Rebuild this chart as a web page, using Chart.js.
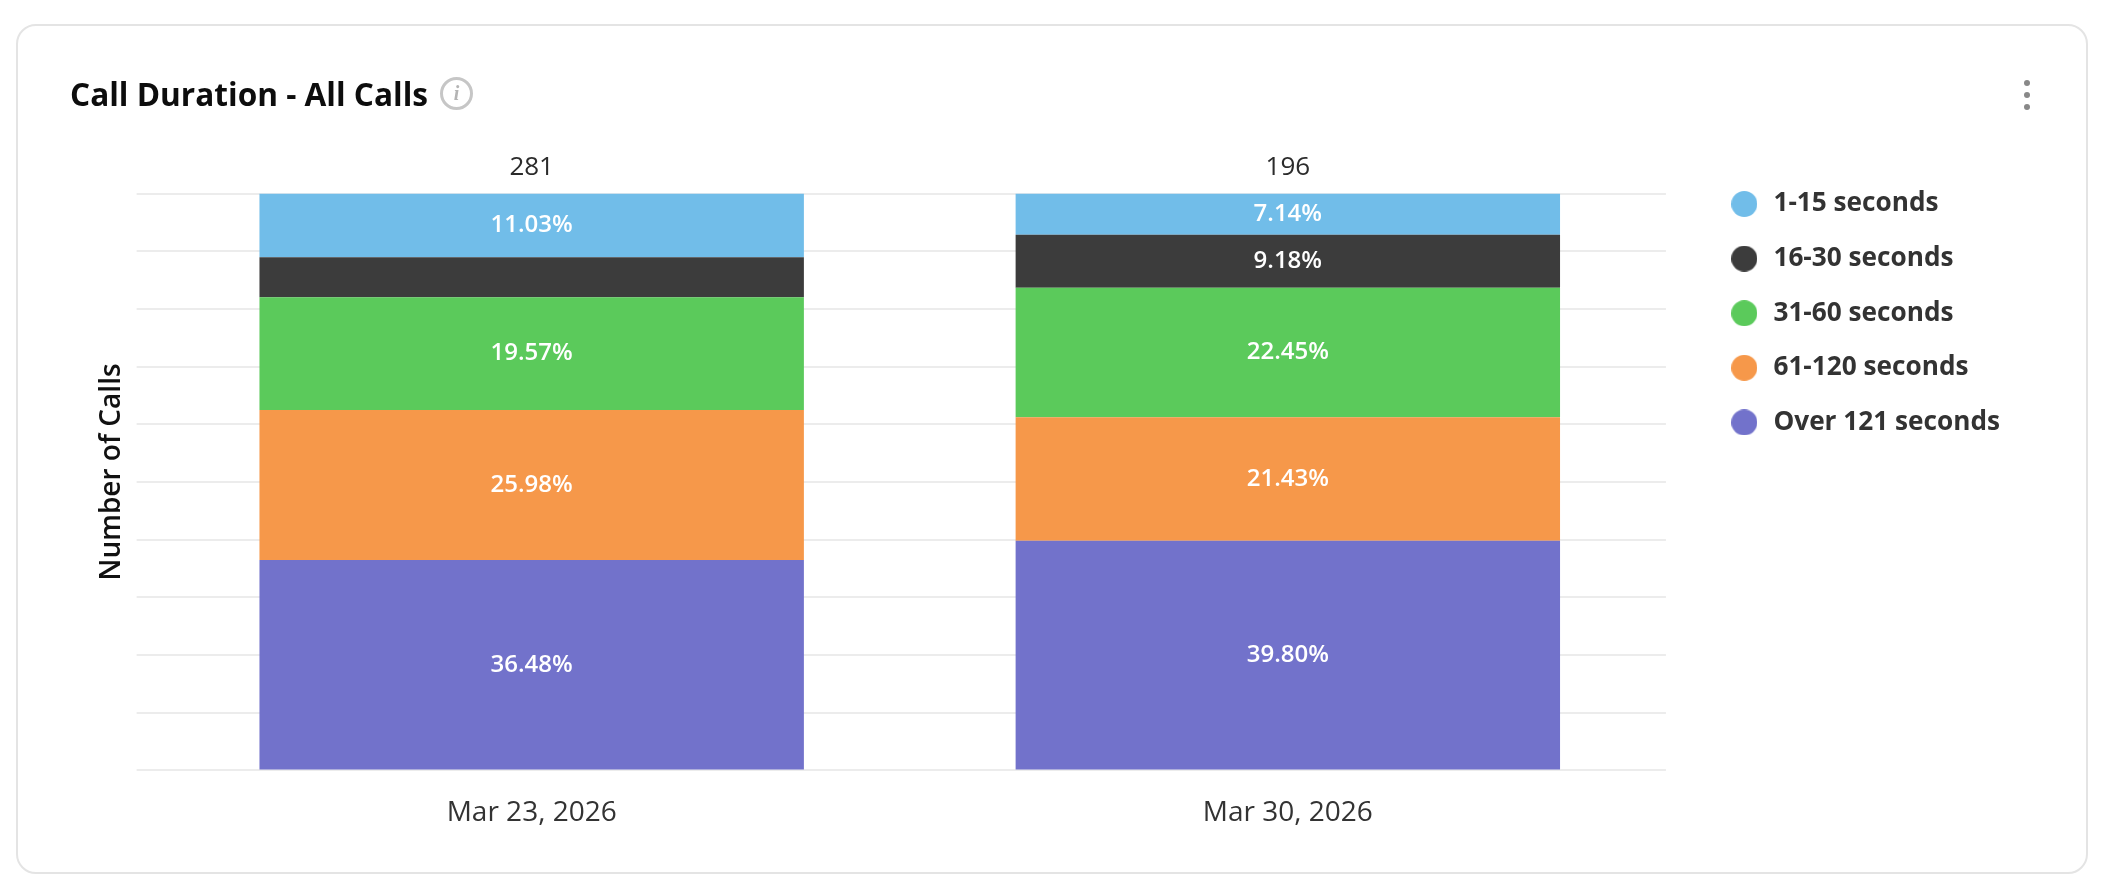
<!DOCTYPE html>
<html><head><meta charset="utf-8">
<script src="https://cdn.jsdelivr.net/npm/chart.js@4"></script>
<style>
html,body{margin:0;padding:0;background:#fff;width:2107px;height:885px;overflow:hidden;font-family:"Open Sans",sans-serif}
#card{position:absolute;left:16px;top:24px;width:2068px;height:846px;border:2px solid #e4e4e4;border-radius:20px;box-sizing:content-box}
canvas{position:absolute;left:0;top:0}
#title{position:absolute;left:70px;top:72px;font-size:31.6px;line-height:44px;font-weight:700;color:#0d0d0d;white-space:nowrap}
#info{position:absolute;left:440px;top:77px;width:27px;height:27px;border:3px solid #c6c6c6;border-radius:50%;text-align:center;font:italic bold 20px/27px "Liberation Serif",serif;color:#b4b4b4}
.dot{position:absolute;left:2024px;width:6px;height:6px;border-radius:50%;background:#888}
</style></head><body>
<div id="card"></div>
<canvas id="c" width="2107" height="885"></canvas>
<div id="title">Call Duration - All Calls</div>
<div id="info">i</div>
<div class="dot" style="top:80px"></div><div class="dot" style="top:92px"></div><div class="dot" style="top:104px"></div>
<script>
const categories=["Mar 23, 2026","Mar 30, 2026"];
const totals=[281,196];
const over121=[36.48,39.80];
const s61to120=[25.98,21.43];
const s31to60=[19.57,22.45];
const s16to30=[6.94,9.18];
const s1to15=[11.03,7.14];
const yTicks=[0,10,20,30,40,50,60,70,80,90,100];
const minLabelled=7;
const FONT='"Open Sans", sans-serif';

function legendDot(color){
  const c=document.createElement('canvas');c.width=26;c.height=26;
  const x=c.getContext('2d');x.fillStyle=color;x.beginPath();x.arc(13,13,13,0,Math.PI*2);x.fill();
  return c;
}

const labels={id:'labels',afterDatasetsDraw(chart){
  const ctx=chart.ctx;ctx.save();ctx.textAlign='center';ctx.textBaseline='middle';
  chart.data.datasets.forEach((d,i)=>{
    chart.getDatasetMeta(i).data.forEach((b,j)=>{
      if(d.data[j]<minLabelled)return;
      ctx.font='600 24px '+FONT;ctx.fillStyle='#fff';
      ctx.fillText(d.data[j].toFixed(2)+'%',b.x,(b.y+b.base)/2);
    });
  });
  const top=chart.getDatasetMeta(chart.data.datasets.length-1).data;
  ctx.font='500 26px '+FONT;ctx.fillStyle='#2b2b2b';
  top.forEach((b,j)=>ctx.fillText(String(totals[j]),b.x,b.y-26));
  ctx.restore();
},afterLayout(chart){
  const s=chart.scales.y,orig=s.drawTitle.bind(s);
  s.drawTitle=function(){chart.ctx.save();chart.ctx.translate(0,-10);orig();chart.ctx.restore();};
  const l=chart.legend;
  l.top-=31;
  l.left=chart.chartArea.right+34;
  l.right=l.left+l.width;
}};

new Chart(document.getElementById('c'),{
  type:'bar',
  data:{labels:categories,datasets:[
    {label:'Over 121 seconds',data:over121,backgroundColor:'#7272cb'},
    {label:'61-120 seconds',data:s61to120,backgroundColor:'#f6984a'},
    {label:'31-60 seconds',data:s31to60,backgroundColor:'#5bca5b'},
    {label:'16-30 seconds',data:s16to30,backgroundColor:'#3c3c3c'},
    {label:'1-15 seconds',data:s1to15,backgroundColor:'#71bde9'}
  ]},
  plugins:[labels],
  options:{
    responsive:false,animation:false,devicePixelRatio:1,
    layout:{padding:{left:95,top:193.5,right:131,bottom:37}},
    datasets:{bar:{categoryPercentage:1,barPercentage:0.72,stack:'a'}},
    plugins:{
      tooltip:{enabled:false},
      legend:{position:'right',align:'start',reverse:true,
        labels:{usePointStyle:true,pointStyleWidth:32,boxHeight:18.4,padding:28.4,color:'#333',font:{family:FONT,size:26.2,weight:'700'},
          generateLabels(chart){
            return Chart.defaults.plugins.legend.labels.generateLabels(chart).map(it=>{
              it.pointStyle=legendDot(chart.data.datasets[it.datasetIndex].backgroundColor);return it;
            });
          }}}
    },
    scales:{
      x:{stacked:true,grid:{display:false},border:{display:false},
        ticks:{color:'#333',font:{family:FONT,size:28},padding:18,maxRotation:0}},
      y:{stacked:true,min:0,max:100,
        afterBuildTicks(a){a.ticks=yTicks.map(v=>({value:v}));},
        grid:{color:'#ececec',lineWidth:2,tickLength:17},border:{display:false},
        ticks:{callback:()=>'',padding:0},
        title:{display:true,text:'Number of Calls',color:'#111',font:{family:FONT,size:28,weight:'600'},padding:{top:0,bottom:8}}}
    }
  }
});
</script></body></html>
